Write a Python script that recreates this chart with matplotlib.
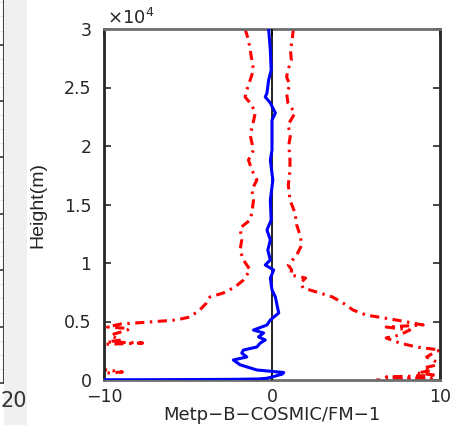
import numpy as np
import matplotlib
matplotlib.use("Agg")
import matplotlib.pyplot as plt
from matplotlib.patches import Rectangle

# ---- data ----
h_lower = [30000, 29060, 28205, 27350, 26496, 25641, 24786, 24188, 23504, 22820,
           21795, 20940, 19658, 18803, 17949, 17094, 16239, 15385, 14274, 13675,
           12991, 11966, 11111, 10256, 9402, 8974, 8547, 7949, 7436, 7094, 6581,
           5983, 5385, 5128, 4957, 4786, 4530, 4400, 4274, 4017, 3846, 3675, 3419,
           3250, 3162, 3050, 2820, 2564, 1709, 1026, 855, 684, 600, 427, 171, 0]
lower = [-1.6, -1.4, -1.3, -1.2, -1.1, -1.3, -1.5, -1.6, -1.2, -1.0,
         -1.15, -1.3, -1.1, -1.4, -1.2, -0.9, -1.2, -1.1, -1.2, -1.3,
         -1.9, -1.8, -1.9, -1.7, -1.3, -1.5, -1.7, -2.2, -2.9, -3.7, -3.9,
         -4.3, -4.9, -5.7, -7.3, -9.0, -9.8, -8.5, -8.6, -9.2, -9.6, -9.4, -9.0,
         -9.8, -7.7, -9.9, -9.8, -11.0, -12.0, -11.0, -9.8, -8.9, -9.8, -10.2, -12.0, -13.0]

h_upper = [30000, 29060, 28205, 27350, 26496, 25897, 25214, 24530, 23675, 22820,
           21795, 20940, 20085, 18803, 17949, 16667, 15385, 14274, 13248, 12393,
           11538, 10684, 9829, 9402, 8974, 8718, 8291, 7863, 7436, 7094, 6581,
           5983, 5556, 5128, 4701, 4530, 4274, 3846, 3590, 3162, 2820, 2564,
           2300, 1966, 1538, 1282, 1026, 800, 598, 400, 256, 100, 0]
upper = [1.27, 1.2, 1.1, 1.15, 0.95, 0.87, 1.07, 0.87, 0.95, 1.37,
         0.95, 1.1, 1.0, 1.07, 1.07, 0.97, 1.07, 1.37, 1.47, 1.67,
         1.77, 1.47, 0.97, 1.17, 1.1, 2.0, 1.7, 1.85, 2.86, 3.6, 4.23,
         4.82, 5.6, 7.4, 9.0, 6.8, 8.2, 7.6, 6.8, 7.6, 8.6, 10.0,
         9.6, 9.2, 9.8, 9.8, 9.0, 9.5, 8.6, 9.8, 6.8, 9.5, 6.2]

h_mean = [30000, 28200, 26500, 25640, 24530, 24190, 23680, 22820, 22220, 21370,
          19660, 18800, 17090, 15380, 13680, 12820, 11970, 11100, 10260, 9830,
          9400, 8700, 7700, 7100, 6410, 5730, 5130, 4700, 4270, 4020, 3680, 3420,
          3160, 2820, 2560, 2300, 1970, 1710, 1300, 855, 640, 500, 300, 150, 90,
          60, 30, 0]
mean = [-0.2, -0.1, -0.05, -0.2, -0.3, -0.4, -0.1, 0.2, 0.0, 0.0,
        0.0, -0.1, 0.05, -0.1, -0.05, -0.3, -0.1, -0.25, -0.1, -0.4,
        0.1, -0.1, 0.0, 0.2, 0.3, 0.4, -0.1, -0.3, -1.1, -0.5, -0.8, -0.4,
        -0.7, -0.9, -1.7, -1.8, -1.5, -2.3, -1.9, -0.9, 0.7, 0.6, 0.1, -0.3, -0.8,
        -2.0, -6.0, -20.0]

x_ticks = [-10, 0, 10]
x_ticklabels = ["\u221210", "0", "10"]
y_ticks = [0, 5000, 10000, 15000, 20000, 25000, 30000]
y_ticklabels = ["0", "0.5", "1", "1.5", "2", "2.5", "3"]

W, H = 465, 425
fig = plt.figure(figsize=(W / 100, H / 100), dpi=100)
fig.patch.set_facecolor("white")

# gray strip of the neighbouring figure region
fig.patches.append(Rectangle((3.5 / W, 0), (27 - 3.5) / W, 1, transform=fig.transFigure,
                             facecolor="#f0f0f0", edgecolor="none", zorder=0))

# partial neighbouring panel on the far left
axl = fig.add_axes([-0.5, 42 / H, 0.5 + 3.5 / W, (H - 42) / H])
axl.set_xlim(0, 20)
axl.set_ylim(0, 383 / 56.4)
axl.set_yticks(np.arange(0, 7, 1))
axl.set_yticks(np.arange(0, 6.8, 0.25), minor=True)
axl.yaxis.tick_right()
axl.tick_params(axis="y", which="major", direction="in", length=4, width=1.2,
                labelright=False, color="#333333")
axl.tick_params(axis="y", which="minor", length=0)
axl.grid(axis="y", which="minor", linestyle=":", color="#bbbbbb", linewidth=0.8)
axl.set_xticks([])
for s in ["left", "top", "bottom"]:
    axl.spines[s].set_visible(False)
axl.spines["right"].set_color("#444444")
axl.spines["right"].set_linewidth(1.5)
fig.text(0.5 / W, 1 - 401 / H, "20", ha="left", va="center", fontsize=15, color="#333333")

# main panel
ax = fig.add_axes([104 / W, 45 / H, (440 - 104) / W, (380 - 29) / H])
ax.plot(lower, h_lower, color="red", linewidth=2.2, linestyle=(0, (3, 1.8, 0.8, 1.8)))
ax.plot(upper, h_upper, color="red", linewidth=2.2, linestyle=(0, (3, 1.8, 0.8, 1.8)))
ax.axvline(0, color="black", linewidth=1.2, zorder=3)
ax.plot(mean, h_mean, color="blue", linewidth=2.2, zorder=4)

ax.set_xlim(-10, 10)
ax.set_ylim(0, 30000)
ax.set_xticks(x_ticks)
ax.set_xticklabels(x_ticklabels)
ax.set_yticks(y_ticks)
ax.set_yticklabels(y_ticklabels)
ax.tick_params(direction="in", length=5, width=1.2, labelsize=12.5, colors="#262626",
               top=True, right=True)
ax.tick_params(axis="y", pad=9)
ax.tick_params(axis="x", pad=6)
for s in ["left", "right"]:
    ax.spines[s].set_color("#262626")
    ax.spines[s].set_linewidth(2)
for s in ["top", "bottom"]:
    ax.spines[s].set_color("#6e6e6e")
    ax.spines[s].set_linewidth(2)

fig.text(272 / W, 1 - 415.5 / H, "Metp\u2212B\u2212COSMIC/FM\u22121", ha="center", va="center",
         fontsize=13, color="#262626")
fig.text(38 / W, 1 - 205 / H, "Height(m)", rotation=90, ha="center", va="center",
         fontsize=14, family="Liberation Sans", color="#262626")
fig.text(107 / W, 1 - 18 / H, r"$\times 10^{4}$", ha="left", va="center",
         fontsize=13, color="#262626")

fig.savefig("out.png", dpi=100, facecolor=fig.get_facecolor())
